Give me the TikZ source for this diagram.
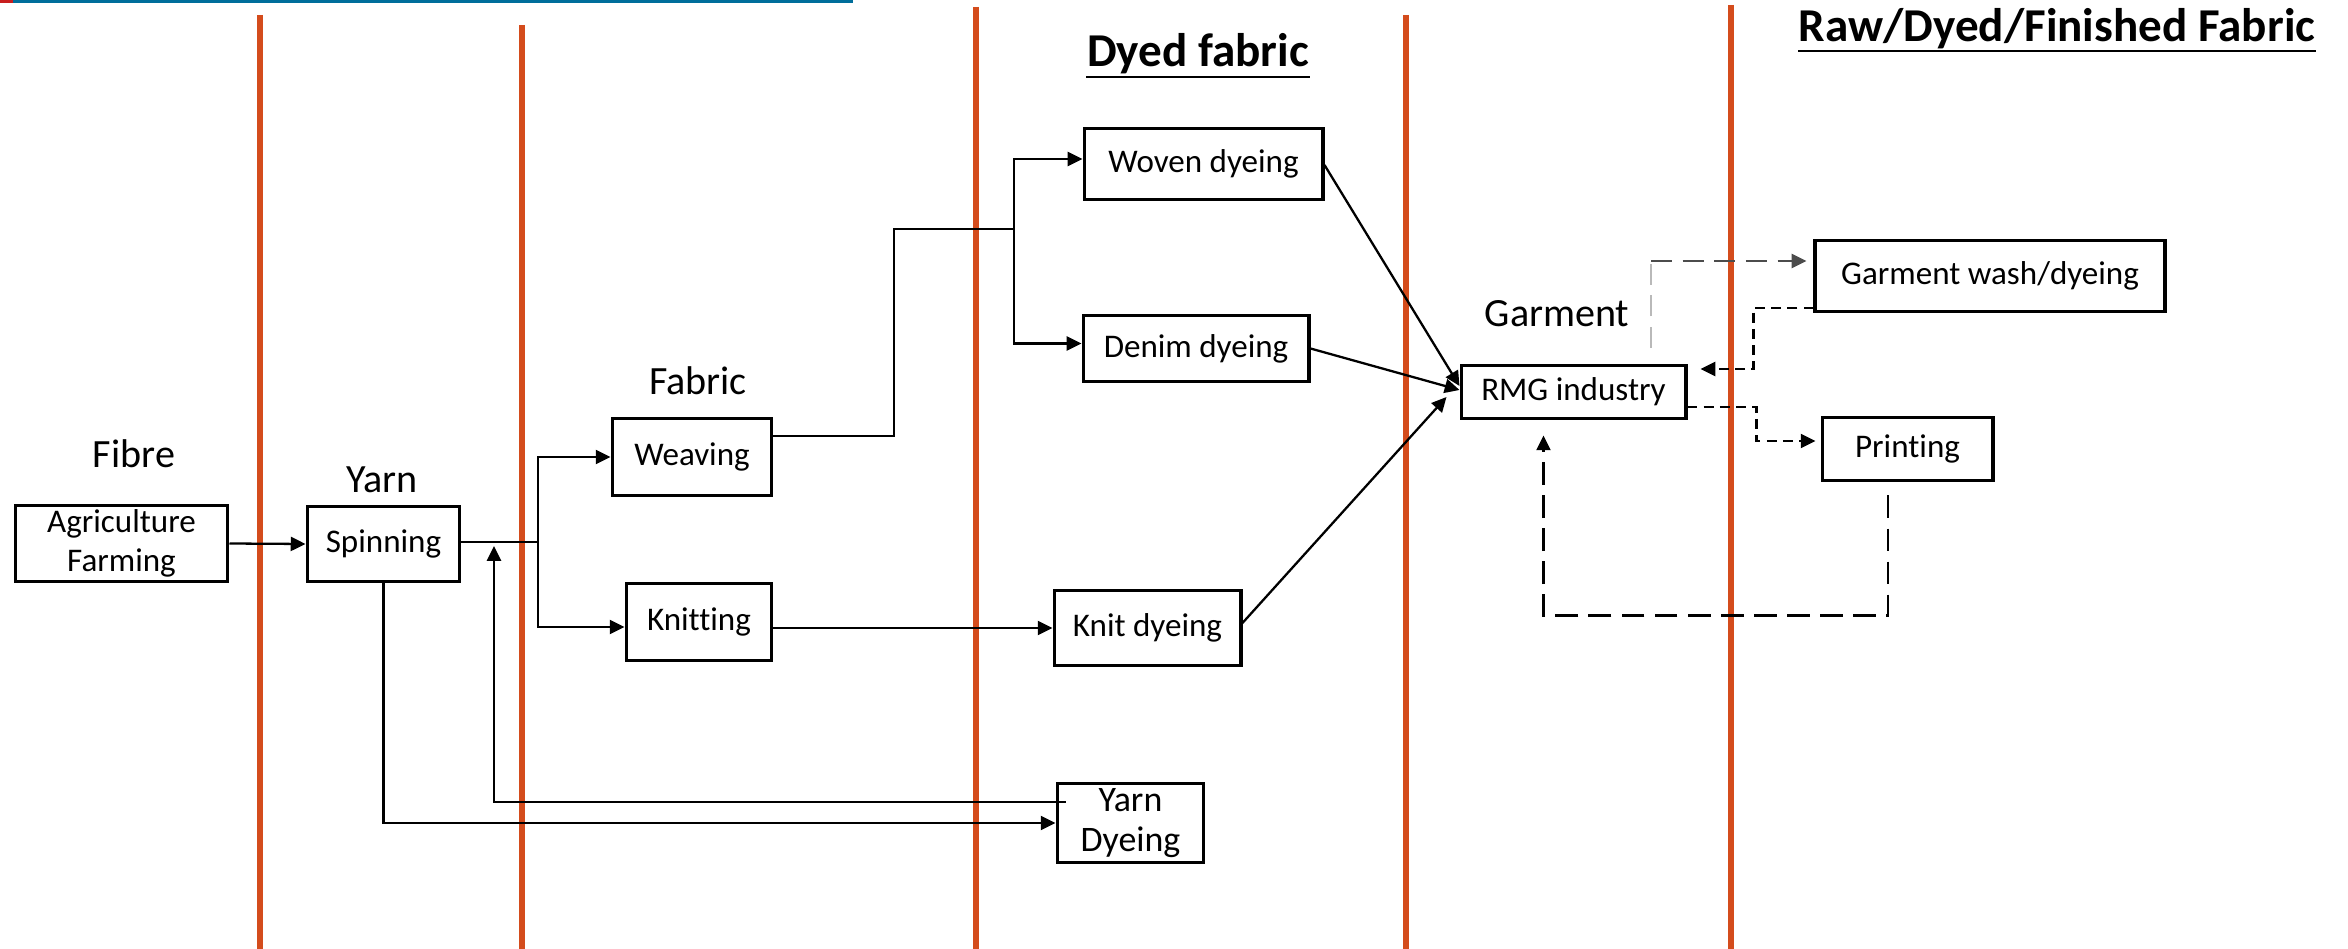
\documentclass[tikz,border=0pt]{standalone}
\usepackage{fontspec}
\setmainfont{Carlito}[Ligatures=NoCommon]
\usetikzlibrary{arrows.meta}
\definecolor{divred}{RGB}{212,76,28}
\definecolor{topblue}{RGB}{0,110,155}
\definecolor{topred}{RGB}{200,30,30}

\begin{document}
\begin{tikzpicture}[
        x=0.01cm, y=-0.01cm, >={Triangle[length=4.2pt,width=4pt]},
        lbox/.style={draw, line width=1.1pt, inner sep=0pt, align=center,
          font=\fontsize{9.4}{11}\selectfont},
        stagelbl/.style={anchor=base, font=\fontsize{11.4}{13}\selectfont},
        headlbl/.style={anchor=base, inner xsep=0pt, font=\fontsize{13.4}{15}\selectfont\bfseries},
        headrule/.style={line width=0.8pt},
        divider/.style={divred, line width=1.85pt},
        link/.style={line width=0.65pt},
        shortdash/.style={link, dash pattern=on 2.8pt off 1.8pt},
        longdash/.style={link, dash pattern=on 6.5pt off 2.9pt}
        ]

        \useasboundingbox (0,0) rectangle (2348,949);

        % top rule
        \fill[topred] (0,0) rectangle (13,3);
        \fill[topblue] (13,0) rectangle (853,3);

        % stage dividers
        \foreach \xx/\yy in {260/15, 522/25, 976/7, 1406/15, 1731/5}
          \draw[divider] (\xx,\yy) -- (\xx,949);

        % headings
        \node[headlbl] (hdye) at (1198,67) {Dyed fabric};
        \node[headlbl] (hraw) at (2057,42) {Raw/Dyed/Finished Fabric};
        \draw[headrule] ([yshift=-0.1cm]hdye.base west) -- ([yshift=-0.1cm]hdye.base east);
        \draw[headrule] ([yshift=-0.09cm]hraw.base west) -- ([yshift=-0.09cm]hraw.base east);

        \node[stagelbl] (lfib) at (134,468)  {Fibre};
        \node[stagelbl] (lyrn) at (382,492)  {Yarn};
        \node[stagelbl] (lfab) at (698,395)  {Fabric};
        \node[stagelbl] (lgar) at (1557,327) {Garment};

        % process boxes
        \node[lbox, minimum width=2.12cm, minimum height=0.76cm] (agri) at (121.5,543.5) {Agriculture\\Farming};
        \node[lbox, minimum width=1.52cm, minimum height=0.75cm] (spin) at (383.5,544)   {Spinning};
        \node[lbox, minimum width=1.59cm, minimum height=0.77cm] (weav) at (692,457)     {Weaving};
        \node[lbox, minimum width=1.45cm, minimum height=0.77cm] (knit) at (699,622)     {Knitting};
        \node[lbox, minimum width=2.38cm, minimum height=0.71cm] (wdye) at (1203.5,164)  {Woven dyeing};
        \node[lbox, minimum width=2.25cm, minimum height=0.66cm] (ddye) at (1196,348.5)  {Denim dyeing};
        \node[lbox, minimum width=1.86cm, minimum height=0.75cm] (kdye) at (1147.5,628)  {Knit dyeing};
        \node[lbox, minimum width=1.46cm, minimum height=0.79cm,
              font=\fontsize{10.2}{11.6}\selectfont] (ydye) at (1130.5,823) {Yarn\\Dyeing};
        \node[lbox, minimum width=2.24cm, minimum height=0.53cm] (rmg)  at (1573.5,392)  {RMG industry};
        \node[lbox, minimum width=3.49cm, minimum height=0.71cm] (wash) at (1990,276)    {Garment wash/dyeing};
        \node[lbox, minimum width=1.70cm, minimum height=0.63cm] (prnt) at (1907.5,449)  {Printing};

        \coordinate (fork1) at (538,542);
        \coordinate (ret1)  at (494,546);
        \coordinate (bend1) at (894,229);
        \coordinate (fork2) at (1014,229);
        \coordinate (washout) at (1651,348);
        \coordinate (washup)  at (1651,261);

        % fibre and yarn
        \draw[link,->] (agri.east) -- (spin.west);
        \draw[link] (spin.east |- fork1) -- (fork1);
        \draw[link,->] (fork1) |- (weav.west);
        \draw[link,->] (fork1) |- ([yshift=-0.05cm]knit.west);
        \draw[link,->] (spin.south) |- (ydye.west);
        \draw[link,->] ([xshift=0.1cm,yshift=0.21cm]ydye.west) -| (ret1);

        % fabric to dyeing
        \draw[link] ([yshift=0.21cm]weav.east) -| (bend1) -- (fork2);
        \draw[link,->] (fork2) |- ([yshift=0.05cm]wdye.west);
        \draw[link,->] (fork2) |- ([yshift=0.05cm]ddye.west);
        \draw[link,->] (knit.east |- kdye.west) -- (kdye.west);

        % dyeing to garment
        \draw[link,->] ([yshift=-0.01cm]wdye.east) -- ([yshift=0.06cm]rmg.west);
        \draw[link,->] (ddye.east) -- ([yshift=0.02cm]rmg.west);
        \draw[link,->] ([yshift=0.05cm]kdye.east) -- ([xshift=-0.13cm,yshift=-0.05cm]rmg.west);

        % garment finishing loops
        \draw[link, gray!55, dash pattern=on 6pt off 3pt] (washout) -- (washup);
        \draw[link, black!70, dash pattern=on 6pt off 3pt, ->, shorten >=0.07cm] (washup) -- (washup -| wash.west);
        \draw[shortdash,->] ([yshift=-0.32cm]wash.west) -- ++(-60,0) |- ([xshift=0.13cm,yshift=0.23cm]rmg.east);
        \draw[shortdash,->,shorten >=0.05cm] ([yshift=-0.15cm]rmg.east) -- ++(69,0) |- ([yshift=0.08cm]prnt.west);
        \draw[longdash,->] ([xshift=-0.195cm,yshift=-0.13cm]prnt.south) -- ++(0,120) -| ([xshift=-0.3cm,yshift=-0.15cm]rmg.south);
      \end{tikzpicture}
\end{document}
